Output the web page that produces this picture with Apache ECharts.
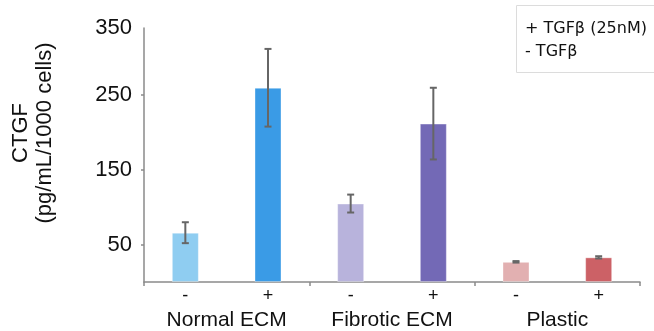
<!DOCTYPE html>
<html><head><meta charset="utf-8">
<script src="https://cdn.jsdelivr.net/npm/echarts@6/dist/echarts.min.js"></script>
<style>html,body{margin:0;padding:0;background:#fff}#c{width:654px;height:331px}</style>
</head><body><div id="c"></div>
<script>
var groups = ['Normal ECM', 'Fibrotic ECM', 'Plastic'];
var treatments = ['-', '+', '-', '+', '-', '+'];
var ctgf = [66, 260, 105, 212, 27, 33];
var ctgfErr = [14, 52, 12, 48, 1, 1.5];
var barColors = ['#8fcdf1', '#3a9be6', '#b8b3dc', '#7369b6', '#e2b0b1', '#cc6166'];
var yTickValues = [50, 150, 250, 340];
var yTickLabels = ['50', '150', '250', '350'];
var legendLines = ['+ TGF\u03B2 (25nM)', '- TGF\u03B2'];

var chart = echarts.init(document.getElementById('c'));
var font = 'Liberation Sans, Arial, sans-serif';
chart.setOption({
  animation: false,
  grid: {left: 144, right: 14, top: 28, bottom: 49},
  title: {
    text: legendLines.join('\n'),
    left: 516, top: 5,
    padding: [12, 40, 10, 9],
    borderColor: '#dcdcdc', borderWidth: 1,
    textStyle: {fontFamily: 'DejaVu Sans, sans-serif', fontSize: 16, fontWeight: 'normal', color: '#111', lineHeight: 23}
  },
  xAxis: [{
    type: 'category', data: treatments,
    axisLine: {show: false}, axisTick: {show: false},
    axisLabel: {margin: 5, fontSize: 18, color: '#111', fontFamily: font}
  }, {
    type: 'category', data: groups, position: 'bottom',
    axisLine: {show: true, lineStyle: {color: '#8a8a8a', width: 1.5}},
    axisTick: {show: true, length: 4, lineStyle: {color: '#8a8a8a', width: 1.5}},
    axisLabel: {margin: 28, fontSize: 21, color: '#111', fontFamily: font}
  }],
  yAxis: {
    type: 'value', min: 0, max: 340,
    axisLine: {show: true, lineStyle: {color: '#8a8a8a', width: 1.5}},
    axisTick: {show: true, length: 3, customValues: [50, 150, 250], lineStyle: {color: '#8a8a8a', width: 1.5}},
    splitLine: {show: false},
    axisLabel: {
      customValues: yTickValues, margin: 12, fontSize: 22, color: '#111', fontFamily: font,
      formatter: function (v) { var i = yTickValues.indexOf(v); return i >= 0 ? yTickLabels[i] : ''; }
    }
  },
  graphic: [{
    type: 'text', x: 33, y: 133, rotation: Math.PI / 2,
    style: {text: 'CTGF\n(pg/mL/1000 cells)', fontSize: 22, fontFamily: font, fill: '#111', align: 'center', verticalAlign: 'middle', lineHeight: 24}
  }],
  series: [{
    type: 'bar', xAxisIndex: 0, barWidth: 27,
    data: ctgf.map(function (v, i) { return {value: v, itemStyle: {color: barColors[i], borderColor: 'rgba(255,255,255,0.35)', borderWidth: 1}}; })
  }, {
    type: 'custom', xAxisIndex: 0, z: 10,
    data: ctgf.map(function (v, i) { return [i, v, ctgfErr[i]]; }),
    renderItem: function (params, api) {
      var x = api.value(0), v = api.value(1), e = api.value(2);
      var hi = api.coord([x, v + e]), lo = api.coord([x, v - e]);
      var hw = 3.5, st = {stroke: '#666', lineWidth: 2};
      return {type: 'group', children: [
        {type: 'line', shape: {x1: hi[0], y1: hi[1], x2: lo[0], y2: lo[1]}, style: st},
        {type: 'line', shape: {x1: hi[0] - hw, y1: hi[1], x2: hi[0] + hw, y2: hi[1]}, style: st},
        {type: 'line', shape: {x1: lo[0] - hw, y1: lo[1], x2: lo[0] + hw, y2: lo[1]}, style: st}
      ]};
    }
  }]
});
</script></body></html>
